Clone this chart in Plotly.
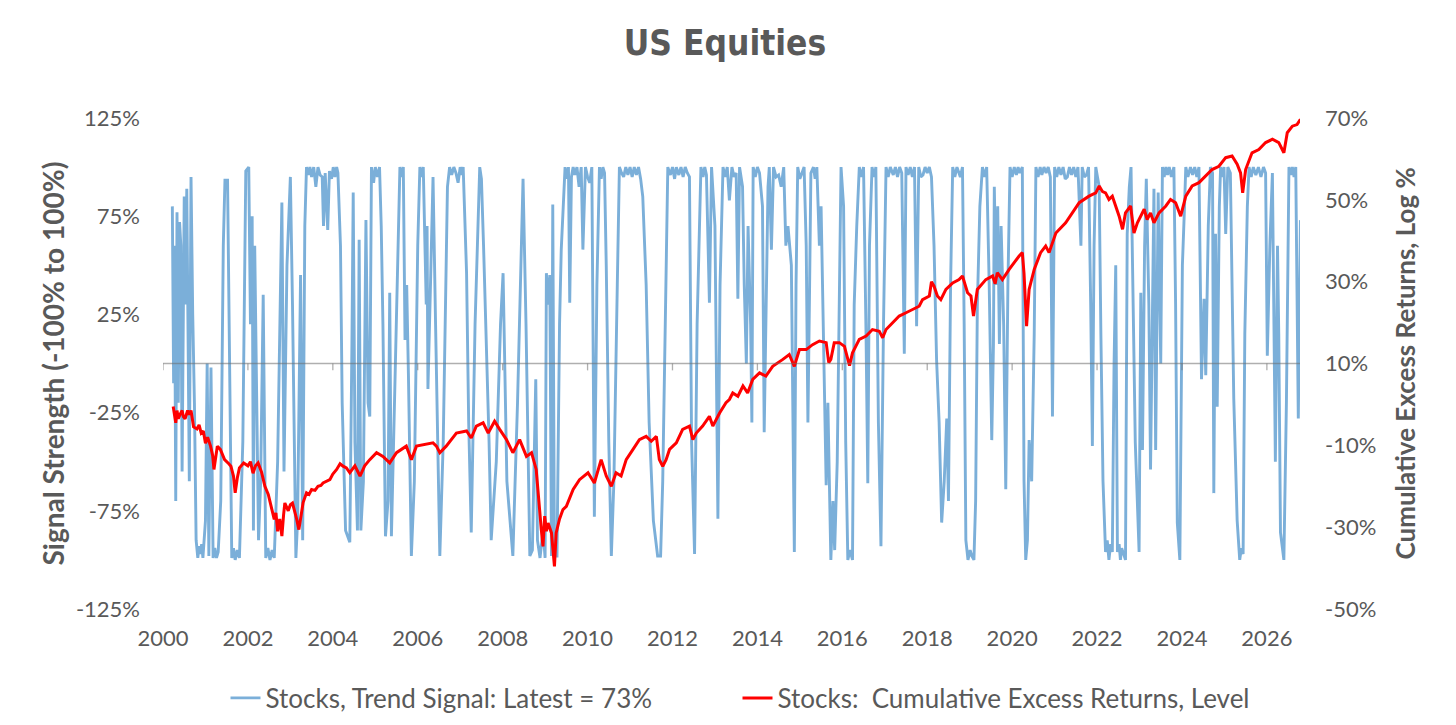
import plotly.graph_objects as go

# Trend signal (left axis, %), (year, value) turning points
sig_2000_2004 = [
    (2000.22, 80), (2000.25, -10), (2000.27, 60), (2000.30, -70), (2000.33, 77), (2000.36, -20),
    (2000.39, 72), (2000.42, 60), (2000.45, -55), (2000.50, 85), (2000.53, 30), (2000.56, 89),
    (2000.62, -60), (2000.66, 95), (2000.70, 25), (2000.74, -20), (2000.78, -90), (2000.82, -99),
    (2000.85, -93), (2000.88, -97), (2000.91, -92), (2000.94, -99), (2001.00, -80), (2001.04, 0),
    (2001.08, -98), (2001.13, -2), (2001.18, -99), (2001.22, -94), (2001.26, -99), (2001.30, -96),
    (2001.36, -70), (2001.42, 60), (2001.46, 94), (2001.49, 90), (2001.52, 94), (2001.56, 20),
    (2001.62, -99), (2001.66, -94), (2001.70, -100), (2001.75, -95), (2001.80, -99), (2001.88, -40),
    (2001.95, 98), (2002.02, 100), (2002.06, 20), (2002.10, 75), (2002.13, -85), (2002.16, 60),
    (2002.20, -10), (2002.25, -90), (2002.30, -60), (2002.36, 35), (2002.42, -99), (2002.47, -94),
    (2002.52, -100), (2002.57, -95), (2002.62, -99), (2002.70, -50), (2002.80, 82), (2002.85, -55),
    (2002.92, 50), (2003.00, 95), (2003.05, 30), (2003.13, -99), (2003.17, -80), (2003.24, 45),
    (2003.29, -90), (2003.34, 70), (2003.38, 100), (2003.42, 96), (2003.46, 100), (2003.50, 95),
    (2003.55, 100), (2003.60, 90), (2003.65, 100), (2003.70, 96), (2003.75, 95), (2003.78, 70),
    (2003.82, 97), (2003.88, 68), (2003.92, 98), (2003.97, 94), (2004.01, 100), (2004.05, 95),
    (2004.09, 100), (2004.12, 97), (2004.18, 60),
]
sig_2004_2008 = [
    (2004.22, -20), (2004.30, -85), (2004.40, -91), (2004.45, 10), (2004.48, 87), (2004.52, -40),
    (2004.58, -85), (2004.62, 63), (2004.66, -85), (2004.72, -60), (2004.78, 73), (2004.83, -20),
    (2004.87, -27), (2004.91, 100), (2004.96, 92), (2005.00, 100), (2005.05, 95), (2005.10, 100),
    (2005.14, 70), (2005.18, 20), (2005.24, -88), (2005.30, -70), (2005.34, 36), (2005.38, -88),
    (2005.45, -20), (2005.55, 80), (2005.58, 100), (2005.62, 95), (2005.66, 100), (2005.70, 12),
    (2005.74, 40), (2005.78, -5), (2005.85, -98), (2005.92, -60), (2006.00, 60), (2006.05, 100),
    (2006.09, 95), (2006.13, 100), (2006.16, 60), (2006.20, 30), (2006.22, 70), (2006.24, -13),
    (2006.30, 40), (2006.36, 95), (2006.42, 20), (2006.52, -98), (2006.60, -40), (2006.70, 90),
    (2006.75, 100), (2006.80, 96), (2006.85, 100), (2006.90, 97), (2006.95, 92), (2007.00, 100),
    (2007.04, 96), (2007.07, 100), (2007.15, 46), (2007.20, -30), (2007.26, -86), (2007.35, 20),
    (2007.46, 100), (2007.50, 94), (2007.55, 60), (2007.62, 12), (2007.68, -40), (2007.73, -90),
    (2007.85, -50), (2007.95, 20), (2008.01, 46), (2008.10, -60), (2008.24, -98), (2008.35, -20),
    (2008.48, 94), (2008.55, 20), (2008.64, -98), (2008.70, -95),
]
sig_2008_2013 = [
    (2008.78, -8), (2008.82, -90), (2008.88, -99), (2008.95, -85), (2009.00, -99), (2009.03, 46),
    (2009.07, 30), (2009.11, 45), (2009.15, -98), (2009.18, 81), (2009.22, -98), (2009.28, -98),
    (2009.34, 20), (2009.38, 58), (2009.43, 80), (2009.47, 100), (2009.51, 94), (2009.55, 100),
    (2009.58, 31), (2009.62, 95), (2009.66, 100), (2009.70, 96), (2009.75, 100), (2009.80, 90),
    (2009.85, 100), (2009.89, 58), (2009.95, 100), (2010.00, 95), (2010.05, 92), (2010.10, 100),
    (2010.16, -78), (2010.22, 40), (2010.28, 100), (2010.32, 94), (2010.36, 100), (2010.40, 97),
    (2010.44, 50), (2010.50, -40), (2010.56, -98), (2010.62, -60), (2010.70, 40), (2010.75, 100),
    (2010.80, 97), (2010.85, 95), (2010.90, 100), (2010.95, 96), (2011.00, 100), (2011.05, 95),
    (2011.10, 100), (2011.15, 96), (2011.20, 100), (2011.25, 94), (2011.30, 85), (2011.38, 40),
    (2011.45, -30), (2011.55, -80), (2011.65, -98), (2011.72, -98), (2011.77, -60), (2011.83, 20),
    (2011.89, 100), (2011.95, 96), (2012.00, 100), (2012.05, 94), (2012.09, 100), (2012.15, 96),
    (2012.20, 100), (2012.25, 95), (2012.30, 100), (2012.35, 97), (2012.40, 95), (2012.45, -40),
    (2012.52, -97), (2012.58, 20), (2012.67, 100), (2012.72, 95), (2012.76, 100), (2012.80, 96),
    (2012.87, 31), (2012.92, 100), (2013.00, 70), (2013.07, -79), (2013.12, 40), (2013.19, 100),
    (2013.24, 95), (2013.29, 100),
]
sig_2013_2017 = [
    (2013.34, 83), (2013.40, 100), (2013.45, 95), (2013.50, 97), (2013.54, 33), (2013.58, 100),
    (2013.65, 90), (2013.69, 40), (2013.74, 0), (2013.78, 70), (2013.84, 20), (2013.87, -30),
    (2013.90, 100), (2013.95, 95), (2014.00, 100), (2014.05, 97), (2014.12, 80), (2014.16, -35),
    (2014.20, 22), (2014.25, 90), (2014.28, 100), (2014.33, 58), (2014.38, 100), (2014.44, 95),
    (2014.50, 96), (2014.56, 90), (2014.62, 100), (2014.67, 60), (2014.72, 70), (2014.80, 50),
    (2014.87, -96), (2014.91, 40), (2014.95, 100), (2015.00, 94), (2015.05, 97), (2015.10, 100),
    (2015.15, 60), (2015.19, -30), (2015.23, 40), (2015.26, 97), (2015.32, 100), (2015.36, 94),
    (2015.40, 100), (2015.46, 60), (2015.50, 80), (2015.55, 15), (2015.62, -62), (2015.66, -20),
    (2015.73, -100), (2015.78, -70), (2015.82, -95), (2015.88, -50), (2015.97, 100), (2016.03, 80),
    (2016.08, -40), (2016.13, -100), (2016.18, -95), (2016.24, -100), (2016.28, 30), (2016.34, 70),
    (2016.40, 100), (2016.45, 95), (2016.50, 100), (2016.56, 13), (2016.60, -61), (2016.64, 60),
    (2016.70, 100), (2016.75, 95), (2016.79, 100), (2016.85, -30), (2016.91, -93), (2016.97, 20),
    (2017.03, 100), (2017.08, 95), (2017.13, 100), (2017.20, 96), (2017.25, 100), (2017.30, 95),
    (2017.35, 100), (2017.40, 97), (2017.46, 5), (2017.50, 100), (2017.55, 96), (2017.60, 100),
    (2017.65, 95), (2017.70, 100),
]
sig_2017_2022 = [
    (2017.75, 19), (2017.80, 100), (2017.85, 95), (2017.90, 96), (2017.95, 100), (2018.00, 97),
    (2018.05, 100), (2018.10, 95), (2018.16, 60), (2018.22, 2), (2018.28, -30), (2018.34, -81),
    (2018.40, -60), (2018.46, -28), (2018.50, -70), (2018.55, 40), (2018.60, 100), (2018.65, 95),
    (2018.70, 100), (2018.78, 95), (2018.83, 100), (2018.87, 20), (2018.91, -90), (2018.96, -100),
    (2019.01, -95), (2019.05, -98), (2019.10, -100), (2019.14, -70), (2019.18, 29), (2019.24, 80),
    (2019.30, 100), (2019.35, 95), (2019.40, 100), (2019.46, 40), (2019.52, -39), (2019.56, 10),
    (2019.58, 90), (2019.62, 40), (2019.66, 80), (2019.70, 10), (2019.74, 70), (2019.80, 20),
    (2019.85, -64), (2019.90, 40), (2019.95, 100), (2020.00, 95), (2020.05, 100), (2020.10, 96),
    (2020.14, 100), (2020.18, 97), (2020.24, 100), (2020.28, -60), (2020.32, -100), (2020.36, -90),
    (2020.40, -39), (2020.46, -60), (2020.52, 15), (2020.56, 100), (2020.61, 95), (2020.66, 100),
    (2020.70, 96), (2020.75, 100), (2020.80, 97), (2020.85, 100), (2020.90, 95), (2020.95, -27),
    (2021.00, 100), (2021.05, 95), (2021.10, 100), (2021.15, 96), (2021.20, 100), (2021.25, 94),
    (2021.30, 95), (2021.35, 100), (2021.40, 96), (2021.45, 100), (2021.50, 95), (2021.55, 100),
    (2021.62, 60), (2021.65, 100), (2021.70, 95), (2021.75, 96), (2021.80, 100), (2021.85, 30),
    (2021.89, -42), (2021.93, 60), (2021.97, 100), (2022.01, 95), (2022.05, 90), (2022.09, 15),
    (2022.14, -60),
]
sig_2022_2026 = [
    (2022.20, -96), (2022.24, -90), (2022.28, -100), (2022.32, -92), (2022.36, -96), (2022.40, -1),
    (2022.44, 50), (2022.48, -96), (2022.52, -92), (2022.55, -100), (2022.58, -94), (2022.62, -97),
    (2022.67, -100), (2022.71, 66), (2022.76, 90), (2022.80, 100), (2022.85, 40), (2022.90, -40),
    (2022.99, -96), (2023.03, 36), (2023.07, -44), (2023.12, 60), (2023.16, 94), (2023.22, 30),
    (2023.26, -54), (2023.34, 89), (2023.38, -44), (2023.44, 87), (2023.50, 0), (2023.54, 100),
    (2023.58, 95), (2023.62, 100), (2023.66, 96), (2023.70, 100), (2023.75, 95), (2023.81, 100),
    (2023.85, 30), (2023.89, -81), (2023.95, -100), (2024.01, 50), (2024.06, 80), (2024.09, 100),
    (2024.14, 95), (2024.20, 100), (2024.25, 96), (2024.30, 100), (2024.35, 95), (2024.40, 100),
    (2024.46, -8), (2024.52, 33), (2024.56, -6), (2024.62, 70), (2024.67, 100), (2024.72, 97),
    (2024.75, -66), (2024.79, 66), (2024.83, -22), (2024.88, 80), (2024.91, 100), (2024.95, 95),
    (2024.99, 100), (2025.03, 66), (2025.08, 100), (2025.14, 97), (2025.22, -18), (2025.30, -80),
    (2025.36, -100), (2025.40, -94), (2025.44, -97), (2025.48, 15), (2025.54, 80), (2025.58, 100),
    (2025.63, 95), (2025.68, 100), (2025.74, 96), (2025.80, 100), (2025.86, 95), (2025.92, 100),
    (2025.97, 97), (2026.01, 4), (2026.07, 60), (2026.13, 97), (2026.20, -50), (2026.25, 60),
    (2026.28, 15), (2026.32, -86), (2026.40, -100), (2026.46, -20), (2026.52, 100), (2026.56, 96),
    (2026.60, 100), (2026.64, 95), (2026.68, 100), (2026.74, -28), (2026.79, 73),
]

# Cumulative excess returns (right axis, log %)
ret_2000_2004 = [
    (2000.24, -0.5), (2000.27, -3), (2000.30, -4.5), (2000.33, -1.5), (2000.36, -3.5), (2000.40, -2.5),
    (2000.45, -1.5), (2000.48, -3), (2000.52, -3.5), (2000.58, -1.5), (2000.62, -2.5), (2000.66, -1.5),
    (2000.72, -5.5), (2000.80, -6), (2000.85, -5), (2000.90, -7), (2000.95, -6.5), (2001.00, -9.5),
    (2001.05, -8), (2001.12, -10.2), (2001.17, -12.5), (2001.20, -15.9), (2001.24, -13), (2001.28, -10.2),
    (2001.35, -11), (2001.40, -12.5), (2001.45, -13.5), (2001.55, -14.5), (2001.60, -15.1), (2001.66, -17.5),
    (2001.70, -21.6), (2001.75, -18), (2001.80, -15.5), (2001.90, -14.3), (2002.00, -15), (2002.06, -14),
    (2002.12, -16.8), (2002.18, -15), (2002.24, -14.3), (2002.32, -16.5), (2002.40, -20.0), (2002.48, -22),
    (2002.55, -25), (2002.62, -28.1), (2002.66, -26.5), (2002.70, -31), (2002.75, -28), (2002.80, -32.2),
    (2002.84, -27), (2002.87, -24.1), (2002.95, -26), (2003.00, -24.5), (2003.05, -24.1), (2003.10, -26),
    (2003.15, -28.1), (2003.20, -30.6), (2003.25, -27), (2003.30, -24), (2003.38, -21.6), (2003.44, -22),
    (2003.50, -20.8), (2003.58, -21), (2003.65, -20), (2003.72, -19.8), (2003.77, -19.2), (2003.85, -18.8),
    (2003.93, -18.4), (2004.00, -17), (2004.09, -15.9), (2004.17, -14.5),
]
ret_2004_2008 = [
    (2004.24, -15.1), (2004.32, -15.5), (2004.40, -16.7), (2004.52, -15), (2004.64, -17.5), (2004.75, -15),
    (2004.87, -13.5), (2005.03, -11.8), (2005.18, -12.7), (2005.34, -14.3), (2005.50, -11.8), (2005.73, -10.2),
    (2005.85, -13.5), (2005.97, -10.2), (2006.20, -9.8), (2006.36, -9.4), (2006.44, -10.2), (2006.52, -11.8),
    (2006.67, -10.2), (2006.91, -7.0), (2007.15, -6.5), (2007.26, -8.2), (2007.38, -5.3), (2007.54, -4.5),
    (2007.66, -7.0), (2007.81, -4.1), (2007.93, -6.1), (2008.09, -8.6), (2008.24, -11.8), (2008.40, -8.6),
    (2008.56, -12.7), (2008.68, -11.8), (2008.79, -15.9), (2008.87, -27.3),
]
ret_2008_2013 = [
    (2008.91, -30.6), (2008.95, -34.7), (2008.99, -27.3), (2009.03, -31), (2009.07, -29.0), (2009.15, -31.4),
    (2009.19, -36), (2009.22, -39.6), (2009.26, -31.4), (2009.34, -28), (2009.42, -25.7), (2009.50, -24.9),
    (2009.66, -20.8), (2009.81, -18.4), (2010.01, -16.7), (2010.16, -19.2), (2010.32, -13.5), (2010.44, -17.5),
    (2010.56, -20.0), (2010.67, -16.7), (2010.79, -17.5), (2010.91, -13.5), (2011.07, -11.0), (2011.22, -8.6),
    (2011.38, -7.8), (2011.50, -9.0), (2011.62, -7.8), (2011.69, -13.5), (2011.77, -15.1), (2011.85, -13.5),
    (2011.93, -11.0), (2012.09, -9.4), (2012.24, -6.1), (2012.40, -5.3), (2012.48, -8.6), (2012.56, -7.0),
    (2012.71, -5.3), (2012.87, -2.9), (2012.95, -5.3), (2013.11, -2.1), (2013.26, 0.4), (2013.34, 1.2),
]
ret_2013_2017 = [
    (2013.42, 2.8), (2013.54, 2.0), (2013.66, 4.5), (2013.77, 2.8), (2013.89, 6.1), (2014.05, 7.7),
    (2014.20, 6.9), (2014.36, 9.3), (2014.60, 11.0), (2014.75, 12.2), (2014.87, 9.3), (2014.99, 13.4),
    (2015.15, 13.4), (2015.30, 14.6), (2015.46, 15.5), (2015.62, 15.1), (2015.68, 10.2), (2015.73, 11.0),
    (2015.81, 15.1), (2015.93, 15.1), (2016.05, 14.2), (2016.12, 11), (2016.17, 9.5), (2016.24, 12.6),
    (2016.40, 15.9), (2016.56, 16.7), (2016.71, 18.3), (2016.87, 17.9), (2016.95, 16.3), (2017.03, 18.3),
    (2017.19, 19.9), (2017.34, 21.6), (2017.50, 22.4), (2017.66, 23.2), (2017.81, 24.0),
]
ret_2017_2022 = [
    (2017.89, 25.6), (2018.05, 26.5), (2018.10, 30), (2018.16, 28.9), (2018.24, 26.5), (2018.32, 25.6),
    (2018.44, 28.1), (2018.60, 29.7), (2018.75, 30.5), (2018.83, 31.4), (2018.95, 27.3), (2019.03, 26.5),
    (2019.09, 21.6), (2019.18, 28.1), (2019.38, 30.5), (2019.54, 31.4), (2019.60, 29.5), (2019.65, 32.2),
    (2019.77, 30.5), (2019.93, 33.0), (2020.16, 36.2), (2020.24, 37.1), (2020.28, 32), (2020.34, 19.1),
    (2020.40, 28.1), (2020.52, 33.0), (2020.67, 37.1), (2020.79, 38.7), (2020.87, 37.1), (2021.03, 41.9),
    (2021.26, 44.4), (2021.42, 46.8), (2021.58, 49.3), (2021.81, 50.9), (2021.97, 51.7), (2022.05, 53.4),
    (2022.13, 52), (2022.20, 51.7), (2022.28, 50.1),
]
ret_2022_2026 = [
    (2022.36, 50.9), (2022.44, 48.5), (2022.52, 46.0), (2022.60, 42.8), (2022.67, 46.8), (2022.79, 48.5),
    (2022.87, 41.9), (2022.95, 44.4), (2023.03, 46.0), (2023.11, 47.7), (2023.18, 45.2), (2023.26, 46.8),
    (2023.34, 44.4), (2023.46, 46.8), (2023.62, 48.5), (2023.73, 50.1), (2023.85, 49.3), (2023.97, 46.0),
    (2024.09, 50.9), (2024.24, 53.4), (2024.40, 54.2), (2024.56, 55.8), (2024.71, 57.4), (2024.87, 58.2),
    (2025.03, 60.3), (2025.18, 60.7), (2025.30, 58.7), (2025.38, 56.6), (2025.43, 51.7), (2025.50, 57.4),
    (2025.65, 61.5), (2025.81, 62.3), (2025.97, 64.0), (2026.13, 64.8), (2026.28, 64.0), (2026.40, 61.5),
    (2026.48, 66.4), (2026.60, 68.0), (2026.71, 68.4), (2026.79, 69.7),
]

left_ticks = [-125, -75, -25, 25, 75, 125]
right_ticks = [-50, -30, -10, 10, 30, 50, 70]
year_ticks = list(range(2000, 2027, 2))

signal = sig_2000_2004 + sig_2004_2008 + sig_2008_2013 + sig_2013_2017 + sig_2017_2022 + sig_2022_2026
returns = ret_2000_2004 + ret_2004_2008 + ret_2008_2013 + ret_2013_2017 + ret_2017_2022 + ret_2022_2026

grey = '#595959'
body_font = 'Lato, "Open Sans", sans-serif'
axis_grey = 'rgba(110,110,110,0.55)'

# the page body adds an 8px offset, so the figure is a touch smaller than the window
W, H = 1448, 717

fig = go.Figure()

fig.add_trace(go.Scatter(
    x=[p[0] for p in signal], y=[p[1] for p in signal],
    mode='lines',
    name='Stocks, Trend Signal: Latest = 73%',
    line=dict(color='#7BAFD9', width=2.9),
    yaxis='y'
))

fig.add_trace(go.Scatter(
    x=[p[0] for p in returns], y=[p[1] for p in returns],
    mode='lines',
    name='Stocks: \u00a0Cumulative Excess Returns, Level',
    line=dict(color='#FF0000', width=3),
    yaxis='y2'
))

# horizontal axis line at zero with little ticks every 2 years, drawn over the series like in Excel
shapes = [dict(type='line', xref='paper', yref='y', x0=0, x1=1, y0=0, y1=0,
               line=dict(color=axis_grey, width=1.3), layer='above')]
for yr in year_ticks:
    shapes.append(dict(type='line', xref='x', yref='y', x0=yr, x1=yr, y0=0, y1=-3.5,
                       line=dict(color=axis_grey, width=1.3), layer='above'))

fig.update_layout(
    width=W,
    height=H,
    autosize=False,
    margin=dict(l=155, r=156, t=110, b=116, autoexpand=False),
    plot_bgcolor='white',
    paper_bgcolor='white',
    title=dict(
        text='US Equities',
        x=(725 - 8) / W, xanchor='center',
        y=1 - 35 / H, yanchor='middle', yref='container',
        font=dict(family='"Liberation Sans Narrow", "DejaVu Sans Condensed", sans-serif',
                  size=35, color=grey, weight='bold')
    ),
    xaxis=dict(
        range=[2000, 2026.78],
        tickvals=year_ticks,
        ticktext=[str(y) for y in year_ticks],
        showgrid=False, zeroline=False, showline=False,
        ticks='',
        ticklabelstandoff=14,
        tickfont=dict(family=body_font, size=22, color=grey)
    ),
    yaxis=dict(
        range=[-125, 125],
        tickvals=left_ticks,
        ticktext=[f'{v}%' for v in left_ticks],
        showgrid=False, zeroline=False, showline=False,
        ticks='',
        ticklabelstandoff=22,
        tickfont=dict(family=body_font, size=22, color=grey)
    ),
    yaxis2=dict(
        range=[-50, 70],
        overlaying='y',
        side='right',
        tickvals=right_ticks,
        ticktext=[f'{v}%' for v in right_ticks],
        showgrid=False, zeroline=False, showline=False,
        ticks='',
        ticklabelstandoff=24,
        tickfont=dict(family=body_font, size=22, color=grey)
    ),
    legend=dict(
        orientation='h',
        x=0.5 + 6 / 1137, xanchor='center',
        y=-89 / 491, yanchor='middle',
        font=dict(family=body_font, size=26, color=grey),
        bgcolor='rgba(0,0,0,0)',
        entrywidth=467,
        entrywidthmode='pixels',
    ),
    shapes=shapes,
    annotations=[
        dict(text='Signal Strength (-100% to 100%)', textangle=-90,
             xref='paper', yref='paper', x=(44 - 155) / 1137, y=0.5,
             xanchor='center', yanchor='middle', showarrow=False,
             font=dict(family=body_font, size=28, color=grey, weight='bold')),
        dict(text='Cumulative Excess Returns, Log %', textangle=-90,
             xref='paper', yref='paper', x=(1396 - 155) / 1137, y=0.5,
             xanchor='center', yanchor='middle', showarrow=False,
             font=dict(family=body_font, size=26, color=grey, weight='bold')),
    ],
    showlegend=True,
)

fig.write_html("out.html")
